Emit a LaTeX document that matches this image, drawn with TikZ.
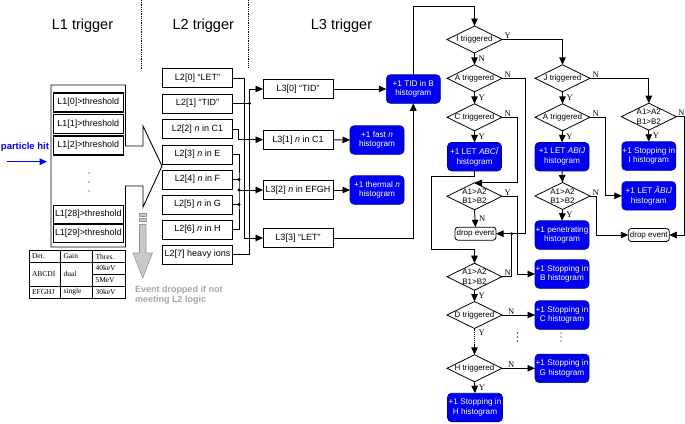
\documentclass[tikz,border=0pt]{standalone}
\usepackage{fontspec}
\setmainfont{Liberation Sans}
\newfontfamily\serifff{Liberation Serif}
\usetikzlibrary{shapes.geometric,arrows.meta,calc}
\definecolor{hblue}{RGB}{0,0,238}
\definecolor{hborder}{RGB}{0,0,160}
\definecolor{dgray}{RGB}{165,165,165}
\definecolor{afill}{RGB}{200,200,200}
\definecolor{aline}{RGB}{150,150,150}
\begin{document}
\begin{tikzpicture}[x=1pt,y=-1pt,
  every node/.style={inner sep=0pt,outer sep=0pt},
  lbox/.style={draw,line width=0.9pt,minimum width=70pt,minimum height=19pt,font=\fontsize{9}{10}\selectfont},
  lonebox/.style={draw,line width=1.1pt,minimum width=69.5pt,minimum height=19pt,font=\fontsize{8.9}{10}\selectfont},
  hist/.style={draw=hborder,line width=0.6pt,fill=hblue,rounded corners=4pt,text=white,minimum width=54pt,minimum height=28.5pt,align=center,font=\fontsize{8.2}{9.6}\selectfont},
  dia/.style={diamond,draw,line width=0.8pt,minimum width=55pt,minimum height=27pt},
  dtxt/.style={font=\fontsize{8}{9.5}\selectfont,align=center},
  dropbox/.style={draw,rounded corners=3pt,fill=white,minimum width=41pt,minimum height=13pt,font=\fontsize{8}{9}\selectfont,line width=0.8pt},
  arr/.style={draw,line width=0.9pt,-{Triangle[length=7.5pt,width=6.5pt]}},
  con/.style={draw,line width=0.9pt},
  yn/.style={font=\serifff\fontsize{8.5}{9}\selectfont},
  jdot/.style={circle,fill,minimum size=3.2pt},
  head/.style={font=\fontsize{14.5}{16}\selectfont},
  tcell/.style={font=\serifff\fontsize{7.5}{8}\selectfont,anchor=west},
]
\useasboundingbox (0,0) rectangle (685,423);

% headings and separators
\node[head] (h1) at (82.5,26) {L1 trigger};
\node[head] (h2) at (203.3,26) {L2 trigger};
\node[head] (h3) at (341.5,26) {L3 trigger};
\draw[densely dotted,line width=0.8pt] (141.6,0) -- (141.6,70);
\draw[densely dotted,line width=0.8pt] (248.8,0) -- (248.8,68);

% L1 block
\draw[line width=0.9pt] (51,85) -- (125.5,85) -- (125.5,146) -- (143,146) -- (143,126)
  -- (162,166) -- (143,207) -- (143,186) -- (125.5,186) -- (125.5,247) -- (51,247) -- cycle;
\node[lonebox] (l10) at (88.3,102.5) {L1[0]>threshold};
\node[lonebox] (l11) at (88.3,124) {L1[1]>threshold};
\node[lonebox] (l12) at (88.3,145.5) {L1[2]>threshold};
\node[lonebox,minimum height=17.5pt] (l128) at (88.3,214.5) {L1[28]>threshold};
\node[lonebox,minimum height=17.5pt] (l129) at (88.3,233.5) {L1[29]>threshold};
\foreach \yy in {173,182,191} \fill (89,\yy) circle (0.7);

% particle hit
\node[font=\bfseries\fontsize{9.5}{11}\selectfont,text=hblue,anchor=east] (ph) at (49,147.5) {particle hit};
\coordinate (pa) at (7,161.7);
\coordinate (pb) at (47,161.7);
\draw[arr,draw=hblue,line width=1pt] (pa) -- (pb);

% table
\draw[line width=0.7pt] (29.3,250.5) rectangle (125,298.5);
\draw[line width=0.7pt] (29.3,262.5) -- (125,262.5);
\draw[line width=0.7pt] (92.7,274.3) -- (125,274.3);
\draw[line width=0.7pt] (29.3,286) -- (125,286);
\draw[line width=0.7pt] (60.7,250.5) -- (60.7,298.5);
\draw[line width=0.7pt] (92.7,250.5) -- (92.7,298.5);
\node[tcell] (t1) at (32,256.5) {Det.};
\node[tcell] (t2) at (63.5,256.5) {Gain};
\node[tcell] (t3) at (95.5,256.5) {Thres.};
\node[tcell] (t4) at (32,274.3) {ABCDI};
\node[tcell] (t5) at (63.5,274.3) {dual};
\node[tcell] (t6) at (95.5,268.4) {40keV};
\node[tcell] (t7) at (95.5,280.2) {5MeV};
\node[tcell] (t8) at (32,292.2) {EFGHJ};
\node[tcell] (t9) at (63.5,292.2) {single};
\node[tcell] (t10) at (95.5,292.2) {30keV};

% gray arrow
\filldraw[fill=afill,draw=aline,line width=0.6pt] (139.5,213) rectangle (146,216);
\filldraw[fill=afill,draw=aline,line width=0.6pt] (139.5,218.5) rectangle (146,221.5);
\filldraw[fill=afill,draw=aline,line width=0.6pt] (139.5,224.5) -- (146,224.5) -- (146,253) -- (152.5,253)
  -- (142.75,278) -- (133,253) -- (139.5,253) -- cycle;
\node[anchor=north west,align=left,text=dgray,font=\bfseries\fontsize{9}{10}\selectfont] (ev) at (135,285.5) {Event dropped if not\\meeting L2 logic};

% L2 boxes
\node[lbox] (l20) at (197.5,78) {L2[0] “LET”};
\node[lbox] (l21) at (197.5,103.5) {L2[1] “TID”};
\node[lbox] (l22) at (197.5,129) {L2[2] \textit{n} in C1};
\node[lbox] (l23) at (197.5,154.5) {L2[3] \textit{n} in E};
\node[lbox] (l24) at (197.5,179.5) {L2[4] \textit{n} in F};
\node[lbox] (l25) at (197.5,204.5) {L2[5] \textit{n} in G};
\node[lbox] (l26) at (197.5,229.5) {L2[6] \textit{n} in H};
\node[lbox] (l27) at (197.5,254.5) {L2[7] heavy ions};

% L3 boxes
\node[lbox,minimum height=19.5pt] (l30) at (298,89) {L3[0] “TID”};
\node[lbox,minimum height=19.5pt] (l31) at (298,139.7) {L3[1] \textit{n} in C1};
\node[lbox,minimum height=19.5pt] (l32) at (298,190) {L3[2] \textit{n} in EFGH};
\node[lbox,minimum height=19.5pt] (l33) at (298,238) {L3[3] “LET”};

% histograms L3
\node[hist] (tid) at (413.3,89) {+1 TID in B\\histogram};
\node[hist] (fast) at (377,140) {+1 fast \textit{n}\\histogram};
\node[hist] (therm) at (377,190) {+1 thermal \textit{n}\\histogram};

% L2 -> L3 connectors
\coordinate (ca) at (244.5,238);
\coordinate (cb) at (249.5,89);
\coordinate (cc) at (238.5,139.7);
\coordinate (cd) at (239,190);
\draw[arr] (l20.east) -| (ca) -- (l33.west);
\draw[arr] (l27.east) -| (cb) -- (l30.west);
\draw[con] (l21.east) -- (l21.east -| cb);
\node[jdot] (j1) at (l21.east -| cb) {};
\draw[arr] (l22.east) -| (cc) -- (l31.west);
\draw[con] (l23.east) -| (cd) |- (l26.east);
\draw[con] (l24.east) -- (l24.east -| cd);
\draw[con] (l25.east) -- (l25.east -| cd);
\node[jdot] (j2) at (l24.east -| cd) {};
\node[jdot] (j3) at (cd) {};
\node[jdot] (j4) at (l25.east -| cd) {};
\draw[arr] (cd) -- (l32.west);

% L3 -> histograms
\draw[arr] (l30) -- (tid);
\draw[arr] (l31) -- (fast);
\draw[arr] (l32) -- (therm);
\draw[arr] (l33.east) -| (tid.south);

% decision tree, main column
\node[dia,label={[dtxt]center:I triggered}] (dI) at (474.5,39.5) {};
\node[dia,label={[dtxt]center:A triggered}] (dA) at (474.5,78.3) {};
\node[dia,label={[dtxt]center:C triggered}] (dC) at (474.5,117.3) {};
\node[hist] (babci) at (474.5,156.7) {+1 LET \textit{ABC\={I}}\\histogram};
\node[dia,label={[dtxt]center:A1>A2\\B1>B2}] (d1) at (474.5,196.3) {};
\node[dropbox] (drop1) at (475.5,233.7) {drop event};
\node[dia,label={[dtxt]center:A1>A2\\B1>B2}] (d2) at (474.5,276.7) {};
\node[dia,label={[dtxt]center:D triggered}] (dD) at (474.5,315) {};
\node[dia,label={[dtxt]center:H triggered}] (dH) at (474.5,368.3) {};
\node[hist,minimum width=55pt] (bH) at (475,407.5) {+1 Stopping in\\H histogram};
\node[hist] (bB) at (562,274) {+1 Stopping in\\B histogram};
\node[hist] (bC) at (562,315) {+1 Stopping in\\C histogram};
\node[hist] (bG) at (562,368.3) {+1 Stopping in\\G histogram};

% right columns
\node[dia,label={[dtxt]center:J triggered}] (dJ) at (562.5,78.3) {};
\node[dia,label={[dtxt]center:A triggered}] (dA2) at (562.5,117.3) {};
\node[hist] (babij) at (562,156.7) {+1 LET \textit{ABIJ}\\histogram};
\node[dia,label={[dtxt]center:A1>A2\\B1>B2}] (d3) at (562.5,196) {};
\node[hist] (bpen) at (562,235) {+1 penetrating\\histogram};
\node[dia,label={[dtxt]center:A1>A2\\B1>B2}] (d4) at (648.8,116.7) {};
\node[hist] (bI) at (648.8,156) {+1 Stopping in\\I histogram};
\node[hist] (babar) at (648.8,195.8) {+1 LET \textit{\={A}BIJ}\\histogram};
\node[dropbox] (drop2) at (648.8,235) {drop event};

% TID -> I triggered
\coordinate (ctid) at (413.3,6);
\draw[arr] (tid.north) -- (ctid) -| (dI.north);

% main column connectors
\draw[arr] (dI.south) -- (dA.north) node[midway,right=4pt,yn] {N};
\draw[arr] (dA.south) -- (dC.north) node[midway,right=4pt,yn] {Y};
\draw[arr] (dC.south) -- (babci.north) node[midway,right=4pt,yn] {Y};
\draw[arr] (dI.east) -| (dJ.north);
\node[yn,anchor=south west] (yI) at ($(dI.east)+(2.5,-0.8)$) {Y};
\coordinate (cA) at (525,233.7);
\draw[arr] (dA.east) -| (cA) -- (drop1.east);
\node[yn,anchor=south west] (nA) at ($(dA.east)+(2.5,-0.8)$) {N};
\coordinate (c1) at (517.5,182.8);
\draw[arr] (dC.east) -| (c1) -- (c1 -| d1.north);
\node[yn,anchor=south west] (nC) at ($(dC.east)+(2.5,-0.8)$) {N};
\draw[arr] (babci.south) -- (474.5,176) -- (431.7,176) -- (431.7,249) -- (474.5,249) -- (d2.north);
\draw[arr] (d1.south) -- (drop1.north) node[midway,right=4pt,yn] {N};
\coordinate (cY1) at (517.5,274);
\draw[arr] (d1.east) -| (cY1) -- (bB.west);
\node[yn,anchor=south west] (y1) at ($(d1.east)+(2.5,-0.8)$) {Y};
\coordinate (cN2) at (511.7,233.7);
\draw[con] (d2.east) -| (cN2);
\node[jdot] (j5) at (cN2) {};
\node[yn,anchor=south west] (n2) at ($(d2.east)+(2.5,-0.8)$) {N};
\draw[arr] (d2.south) -- (dD.north) node[midway,right=4pt,yn] {Y};
\draw[arr] (dD.east) -- (bC.west) node[pos=0.28,above=1pt,yn] {N};
\coordinate (cDd) at (474.5,345);
\draw[densely dotted,line width=0.9pt] (dD.south) -- (cDd);
\node[yn,anchor=west] (yD) at (478.5,333) {Y};
\draw[arr] (cDd) -- (dH.north);
\draw[arr] (dH.east) -- (bG.west) node[pos=0.28,above=1pt,yn] {N};
\draw[arr] (dH.south) -- (bH.north) node[midway,right=4pt,yn] {Y};
\foreach \xx in {517.3,561} { \foreach \yy in {333,337,341} \fill (\xx,\yy) circle (0.7); }

% right column connectors
\draw[arr] (dJ.south) -- (dA2.north) node[midway,right=4pt,yn] {Y};
\draw[arr] (dA2.south) -- (babij.north) node[midway,right=4pt,yn] {Y};
\draw[arr] (babij.south) -- (d3.north);
\draw[arr] (d3.south) -- (bpen.north) node[midway,right=4pt,yn] {Y};
\draw[arr] (dJ.east) -| (d4.north);
\node[yn,anchor=south west] (nJ) at ($(dJ.east)+(2.5,-0.8)$) {N};
\coordinate (cA2) at (605,195.8);
\draw[arr] (dA2.east) -| (cA2) -- (babar.west);
\node[yn,anchor=south west] (nA2) at ($(dA2.east)+(2.5,-0.8)$) {N};
\coordinate (c3) at (596.7,235);
\draw[arr] (d3.east) -| (c3) -- (drop2.west);
\node[yn,anchor=south west] (n3) at ($(d3.east)+(2.5,-0.8)$) {N};
\draw[arr] (d4.south) -- (bI.north) node[midway,right=4pt,yn] {Y};
\coordinate (c4) at (684,235);
\draw[arr] (d4.east) -| (c4) -- (drop2.east);
\node[yn,anchor=south west] (n4) at ($(d4.east)+(2,-0.8)$) {N};
\end{tikzpicture}
\end{document}
